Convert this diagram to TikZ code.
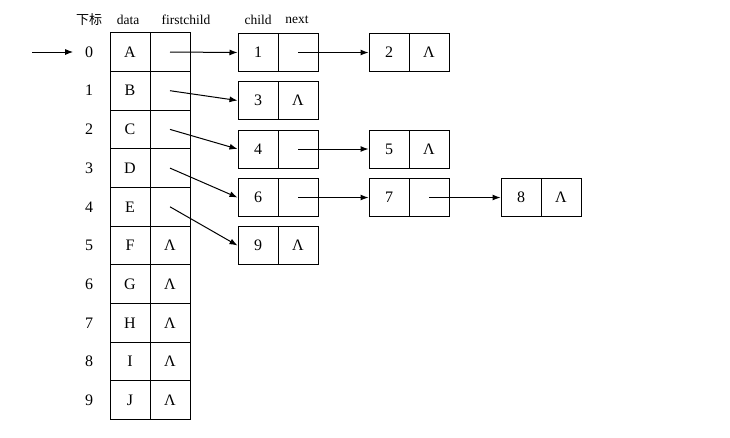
\documentclass[tikz,border=0pt]{standalone}
\usepackage{fontspec}
\setmainfont{Liberation Serif}
\newfontfamily\cjk{Noto Sans CJK SC}
\usetikzlibrary{arrows.meta}

\begin{document}
\begin{tikzpicture}[x=1pt, y=-1pt, line width=1pt,
    cell/.style={rectangle, draw, minimum width=40pt, minimum height=38.7pt, inner sep=0pt, font=\fontsize{16}{19}\selectfont},
    link/.style={cell, minimum height=38pt},
    head/.style={font=\fontsize{13.5}{16}\selectfont},
    idx/.style={font=\fontsize{16}{19}\selectfont},
    ptr/.style={-{Latex[length=8pt,width=6pt]}}]
    \useasboundingbox (0,0) rectangle (730,437);

    % column heads
    \node at (89,20) [head, font=\cjk\fontsize{13}{16}\selectfont] (hIdx) {下标};
    \node at (128,20) [head] (hData) {data};
    \node at (186,20) [head] (hFirst) {firstchild};
    \node at (258,20) [head] (hChild) {child};
    \node at (297,20) [head] (hNext) {next};

    % array of nodes
    \node at (89,52) [idx] (i0) {0};
    \node at (89,90.7) [idx] (i1) {1};
    \node at (89,129.4) [idx] (i2) {2};
    \node at (89,168.1) [idx] (i3) {3};
    \node at (89,206.8) [idx] (i4) {4};
    \node at (89,245.5) [idx] (i5) {5};
    \node at (89,284.2) [idx] (i6) {6};
    \node at (89,322.9) [idx] (i7) {7};
    \node at (89,361.6) [idx] (i8) {8};
    \node at (89,400.3) [idx] (i9) {9};

    \node at (130,52) [cell] (dA) {A};
    \node at (130,90.7) [cell] (dB) {B};
    \node at (130,129.4) [cell] (dC) {C};
    \node at (130,168.1) [cell] (dD) {D};
    \node at (130,206.8) [cell] (dE) {E};
    \node at (130,245.5) [cell] (dF) {F};
    \node at (130,284.2) [cell] (dG) {G};
    \node at (130,322.9) [cell] (dH) {H};
    \node at (130,361.6) [cell] (dI) {I};
    \node at (130,400.3) [cell] (dJ) {J};

    \node at (170,52) [cell] (fA) {};
    \node at (170,90.7) [cell] (fB) {};
    \node at (170,129.4) [cell] (fC) {};
    \node at (170,168.1) [cell] (fD) {};
    \node at (170,206.8) [cell] (fE) {};
    \node at (170,245.5) [cell] (fF) {Λ};
    \node at (170,284.2) [cell] (fG) {Λ};
    \node at (170,322.9) [cell] (fH) {Λ};
    \node at (170,361.6) [cell] (fI) {Λ};
    \node at (170,400.3) [cell] (fJ) {Λ};

    % child lists
    \node at (258,52.5) [link] (c1) {1};
    \node at (298,52.5) [link] (n1) {};
    \node at (389,52.5) [link] (c2) {2};
    \node at (429,52.5) [link] (n2) {Λ};
    \node at (258,100.5) [link] (c3) {3};
    \node at (298,100.5) [link] (n3) {Λ};
    \node at (258,149) [link] (c4) {4};
    \node at (298,149) [link] (n4) {};
    \node at (389,149) [link] (c5) {5};
    \node at (429,149) [link] (n5) {Λ};
    \node at (258,197.5) [link] (c6) {6};
    \node at (298,197.5) [link] (n6) {};
    \node at (389,197.5) [link] (c7) {7};
    \node at (429,197.5) [link] (n7) {};
    \node at (521,197.5) [link] (c8) {8};
    \node at (561,197.5) [link] (n8) {Λ};
    \node at (258,245.5) [link] (c9) {9};
    \node at (298,245.5) [link] (n9) {Λ};

    \coordinate (start) at (32,52);
    \draw[ptr] (start) -- (i0.west) [shorten >=8pt];

    \draw[ptr] (fA.center) -- (c1.west);
    \draw[ptr] (fB.center) -- (c3.west);
    \draw[ptr] (fC.center) -- (c4.west);
    \draw[ptr] (fD.center) -- (c6.west);
    \draw[ptr] (fE.center) -- (c9.west);
    \draw[ptr] (n1.center) -- (c2.west);
    \draw[ptr] (n4.center) -- (c5.west);
    \draw[ptr] (n6.center) -- (c7.west);
    \draw[ptr] (n7.center) -- (c8.west);
\end{tikzpicture}
\end{document}
